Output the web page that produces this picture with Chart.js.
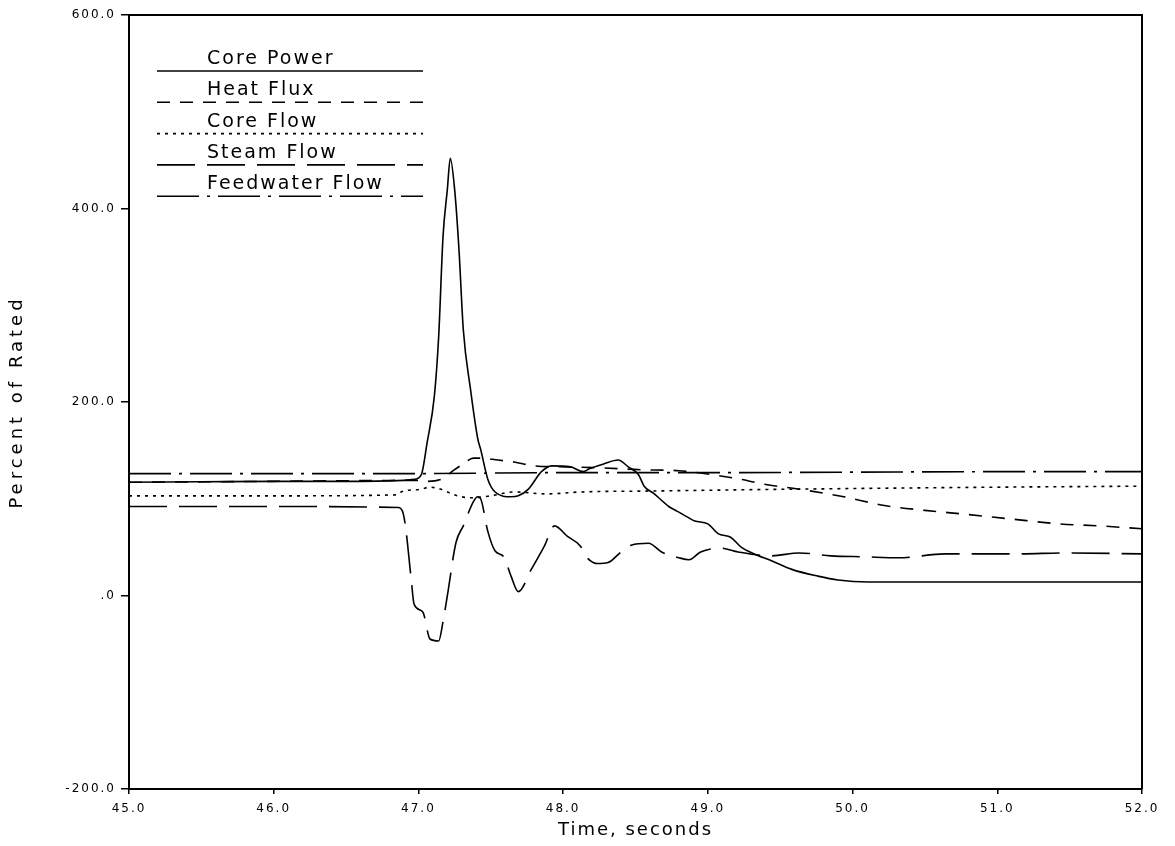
<!DOCTYPE html>
<html>
<head>
<meta charset="utf-8">
<script src="https://cdn.jsdelivr.net/npm/chart.js@4.4.1/dist/chart.umd.min.js"></script>
<style>
  html, body { margin: 0; padding: 0; background: #fff; }
</style>
</head>
<body>
<canvas id="grafico" width="1175" height="846"></canvas>
<script>
// ejes
const xTicks = [45, 46, 47, 48, 49, 50, 51, 52]
const yTicks = [-200, 0, 200, 400, 600]

// Core Power (linea continua)
const corePowerT = [45.0, 45.5, 46.0, 46.5, 46.9, 46.97, 47.02, 47.06, 47.11, 47.14, 47.17, 47.20, 47.22, 47.25, 47.28, 47.31, 47.36, 47.41, 47.43, 47.48, 47.53, 47.64, 47.69, 47.76, 47.85, 47.92, 48.05, 48.14, 48.18, 48.28, 48.38, 48.45, 48.52, 48.56, 48.63, 48.73, 48.79, 48.86, 48.91, 49.00, 49.07, 49.16, 49.23, 49.32, 49.44, 49.58, 49.76, 49.90, 50.11, 51.0, 52.0]
const corePowerV = [117, 117.5, 118, 118, 119, 120, 125, 158, 206, 268, 371, 420, 452, 420, 358, 275, 213, 162, 151, 120, 107, 102, 103, 110, 128, 134, 133, 128, 131, 136, 140, 133, 125, 113, 105, 92, 87, 81, 77, 74, 64, 60, 50, 43, 36, 27, 20, 16, 14, 14, 14]

// Heat Flux (guiones)
const heatFluxT = [45.0, 46.0, 47.0, 47.06, 47.17, 47.24, 47.31, 47.38, 47.43, 47.55, 47.66, 47.80, 47.98, 48.26, 48.54, 48.80, 49.07, 49.23, 49.39, 49.67, 49.94, 50.22, 50.50, 50.78, 51.10, 51.43, 51.70, 52.0]
const heatFluxV = [117, 118, 119, 118, 121, 129, 136, 142, 142, 140, 138, 134, 133, 132, 130, 129, 124, 120, 115, 109, 102, 93, 88, 84, 79, 74, 72, 69]

// Core Flow (puntos)
const coreFlowT = [45.0, 46.0, 46.85, 46.88, 47.02, 47.08, 47.15, 47.27, 47.36, 47.50, 47.66, 47.89, 48.12, 48.61, 49.65, 51.03, 52.0]
const coreFlowV = [103, 103, 104, 107, 110, 112, 110, 103, 101, 103, 107, 105, 107, 108, 110, 112, 113]

// Steam Flow (guion largo)
const steamFlowT = [45.0, 46.0, 46.86, 46.89, 46.91, 46.95, 46.97, 47.03, 47.08, 47.14, 47.17, 47.20, 47.26, 47.31, 47.38, 47.41, 47.43, 47.48, 47.53, 47.59, 47.64, 47.69, 47.78, 47.87, 47.94, 48.03, 48.12, 48.16, 48.24, 48.31, 48.40, 48.47, 48.59, 48.68, 48.80, 48.87, 48.95, 49.09, 49.21, 49.44, 49.63, 49.85, 50.08, 50.32, 50.64, 51.15, 51.47, 52.0]
const steamFlowV = [92, 92, 91, 87, 72, 17, -9, -17, -45, -47, -27, 0, 55, 72, 97, 102, 100, 66, 46, 40, 20, 4, 27, 51, 72, 61, 51, 40, 33, 34, 45, 52, 54, 45, 39, 37, 45, 49, 45, 41, 44, 41, 40, 39, 43, 43, 44, 43]

// Feedwater Flow (guion-punto)
const feedwaterT = [45.0, 46.0, 47.0, 48.0, 49.0, 50.0, 51.0, 52.0]
const feedwaterV = [126, 126, 126, 127, 127, 127.5, 128, 128]

const fuente = 'DejaVu Sans'

const puntos = (t, v) => t.map((x, i) => ({ x: x, y: v[i] }))

const serie = (label, t, v, dash) => ({
  label: label,
  data: puntos(t, v),
  borderColor: '#000',
  borderWidth: 1.6,
  borderDash: dash,
  pointRadius: 0,
  fill: false,
  cubicInterpolationMode: 'monotone'
})

// leyenda dentro del grafico: texto arriba, muestra de linea abajo
const leyenda = {
  id: 'leyenda',
  beforeDraw(chart) {
    chart.ctx.letterSpacing = '2px'
  },
  afterDraw(chart) {
    const ctx = chart.ctx
    const a = chart.chartArea
    ctx.save()
    ctx.fillStyle = '#000'
    ctx.strokeStyle = '#000'

    // marco arriba y a la derecha
    ctx.lineWidth = 2
    ctx.setLineDash([])
    ctx.beginPath()
    ctx.moveTo(a.left, a.top)
    ctx.lineTo(a.right, a.top)
    ctx.lineTo(a.right, a.bottom)
    ctx.stroke()

    ctx.font = '19px "' + fuente + '"'
    ctx.letterSpacing = '2px'
    ctx.textBaseline = 'middle'
    ctx.textAlign = 'left'
    chart.data.datasets.forEach((ds, i) => {
      const yTxt = a.top + 44 + i * 31.3
      ctx.fillText(ds.label, a.left + 78, yTxt)
      ctx.beginPath()
      ctx.lineWidth = ds.borderWidth
      ctx.setLineDash(ds.borderDash)
      ctx.moveTo(a.left + 28, yTxt + 12)
      ctx.lineTo(a.left + 294, yTxt + 12)
      ctx.stroke()
    })

    // titulo del eje y
    ctx.setLineDash([])
    ctx.font = '18px "' + fuente + '"'
    ctx.letterSpacing = '4px'
    ctx.textAlign = 'center'
    ctx.translate(17, (a.top + a.bottom) / 2)
    ctx.rotate(-Math.PI / 2)
    ctx.fillText('Percent of Rated', 0, 0)
    ctx.restore()
  }
}

const ctx = document.getElementById('grafico').getContext('2d')

const myChart = new Chart(ctx, {
  type: 'line',
  data: {
    datasets: [
      serie('Core Power', corePowerT, corePowerV, []),
      serie('Heat Flux', heatFluxT, heatFluxV, [13, 10]),
      serie('Core Flow', coreFlowT, coreFlowV, [3, 5]),
      serie('Steam Flow', steamFlowT, steamFlowV, [38, 12]),
      serie('Feedwater Flow', feedwaterT, feedwaterV, [42, 8, 3, 8])
    ]
  },
  options: {
    responsive: false,
    animation: false,
    layout: { padding: { top: 15, right: 33, left: 0, bottom: 0 } },
    plugins: {
      legend: { display: false },
      tooltip: { enabled: false }
    },
    scales: {
      x: {
        type: 'linear',
        min: 45,
        max: 52,
        afterBuildTicks: s => { s.ticks = xTicks.map(v => ({ value: v })) },
        afterFit: s => { s.height = 57 },
        ticks: {
          callback: v => v.toFixed(1),
          font: { family: fuente, size: 12 },
          color: '#000',
          padding: 8,
          maxRotation: 0,
          autoSkip: false
        },
        grid: { drawOnChartArea: false, drawTicks: true, tickLength: 5, color: '#000', lineWidth: 1.5 },
        border: { display: true, color: '#000', width: 2 },
        title: {
          display: true,
          text: 'Time, seconds',
          font: { family: fuente, size: 18 },
          color: '#000',
          padding: { top: 0, bottom: 5 }
        }
      },
      y: {
        min: -200,
        max: 600,
        afterBuildTicks: s => { s.ticks = yTicks.map(v => ({ value: v })) },
        afterFit: s => { s.width = 129 },
        ticks: {
          callback: v => v === 0 ? '.0' : v.toFixed(1),
          font: { family: fuente, size: 12 },
          color: '#000',
          padding: 5
        },
        grid: { drawOnChartArea: false, drawTicks: true, tickLength: 8, color: '#000', lineWidth: 1.5 },
        border: { display: true, color: '#000', width: 2 }
      }
    }
  },
  plugins: [leyenda]
})
</script>
</body>
</html>
